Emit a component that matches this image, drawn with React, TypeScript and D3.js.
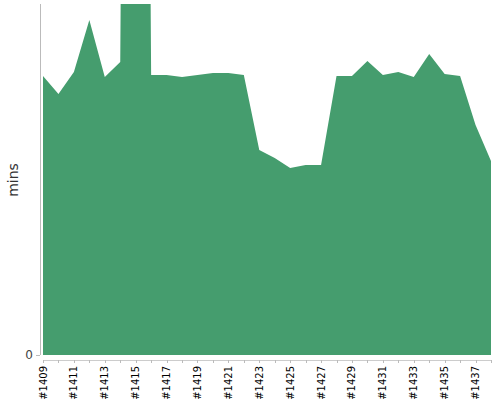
import React, { useEffect, useRef } from "react";
import * as d3 from "d3";

const builds: string[] = [
  "#1409", "#1410", "#1411", "#1412", "#1413", "#1414", "#1415", "#1416", "#1417", "#1418",
  "#1419", "#1420", "#1421", "#1422", "#1423", "#1424", "#1425", "#1426", "#1427", "#1428",
  "#1429", "#1430", "#1431", "#1432", "#1433", "#1434", "#1435", "#1436", "#1437", "#1438",
];
const durationMins: number[] = [
  27.9, 26.1, 28.3, 33.5, 27.8, 29.3, 250, 28.0, 28.0, 27.8,
  28.0, 28.2, 28.2, 28.0, 20.5, 19.7, 18.7, 19.0, 19.0, 27.9,
  27.9, 29.4, 28.0, 28.3, 27.8, 30.1, 28.1, 27.9, 23.0, 19.4,
];
const yDomainMax = 35.1;
const yTicks: number[] = [0];
const yLabel = "mins";

export default function App() {
  const ref = useRef<SVGSVGElement | null>(null);
  useEffect(() => {
    const svg = d3.select(ref.current);
    svg.selectAll("*").remove();
    const W = 500, H = 400;
    const top = 4, bottom = 355, axisX = 40;
    const x = d3.scalePoint<string>().domain(builds).range([43, 491]);
    const y = d3.scaleLinear().domain([0, yDomainMax]).range([bottom, top]);

    svg.append("defs").append("clipPath").attr("id", "plotclip")
      .append("rect").attr("x", axisX).attr("y", top).attr("width", W - axisX).attr("height", bottom - top);

    const area = d3.area<number>()
      .x((_, i) => x(builds[i]) as number)
      .y0(y(0))
      .y1((d) => y(d))
      .curve(d3.curveLinear);

    svg.append("path")
      .attr("clip-path", "url(#plotclip)")
      .attr("d", area(durationMins) as string)
      .attr("fill", "#459d6e");

    // y axis
    svg.append("line").attr("x1", axisX + 0.5).attr("x2", axisX + 0.5).attr("y1", top).attr("y2", bottom)
      .attr("stroke", "#bbb").attr("stroke-width", 1);
    yTicks.forEach((t) => {
      svg.append("line").attr("x1", axisX - 4).attr("x2", axisX).attr("y1", y(t) + 0.5).attr("y2", y(t) + 0.5)
        .attr("stroke", "#bbb");
      svg.append("text").attr("x", axisX - 7).attr("y", y(t)).attr("dy", "0.35em")
        .attr("text-anchor", "end").attr("font-family", "DejaVu Sans").attr("font-size", 12)
        .attr("fill", "#444").text(String(t));
    });
    svg.append("text").attr("transform", `translate(18,180) rotate(-90)`)
      .attr("text-anchor", "middle").attr("font-family", "DejaVu Sans").attr("font-size", 14)
      .attr("fill", "#333").text(yLabel);

    // x axis
    const axisY = 360;
    svg.append("line").attr("x1", x(builds[0]) as number).attr("x2", x(builds[builds.length - 1]) as number)
      .attr("y1", axisY + 0.5).attr("y2", axisY + 0.5).attr("stroke", "#ccc");
    builds.forEach((b, i) => {
      const xp = Math.round(x(b) as number) + 0.5;
      svg.append("line").attr("x1", xp).attr("x2", xp).attr("y1", axisY).attr("y2", axisY + 3)
        .attr("stroke", "#bbb");
      if (i % 2 === 0) {
        svg.append("text")
          .attr("transform", `translate(${x(b)},366) rotate(-90)`)
          .attr("dy", "0.35em").attr("text-anchor", "end")
          .attr("font-family", "DejaVu Sans").attr("font-size", 10).attr("fill", "#000")
          .text(b);
      }
    });
  }, []);
  return (
    <svg ref={ref} width={500} height={400}
      style={{ position: "absolute", left: 0, top: 0, display: "block", background: "#fff" }} />
  );
}
